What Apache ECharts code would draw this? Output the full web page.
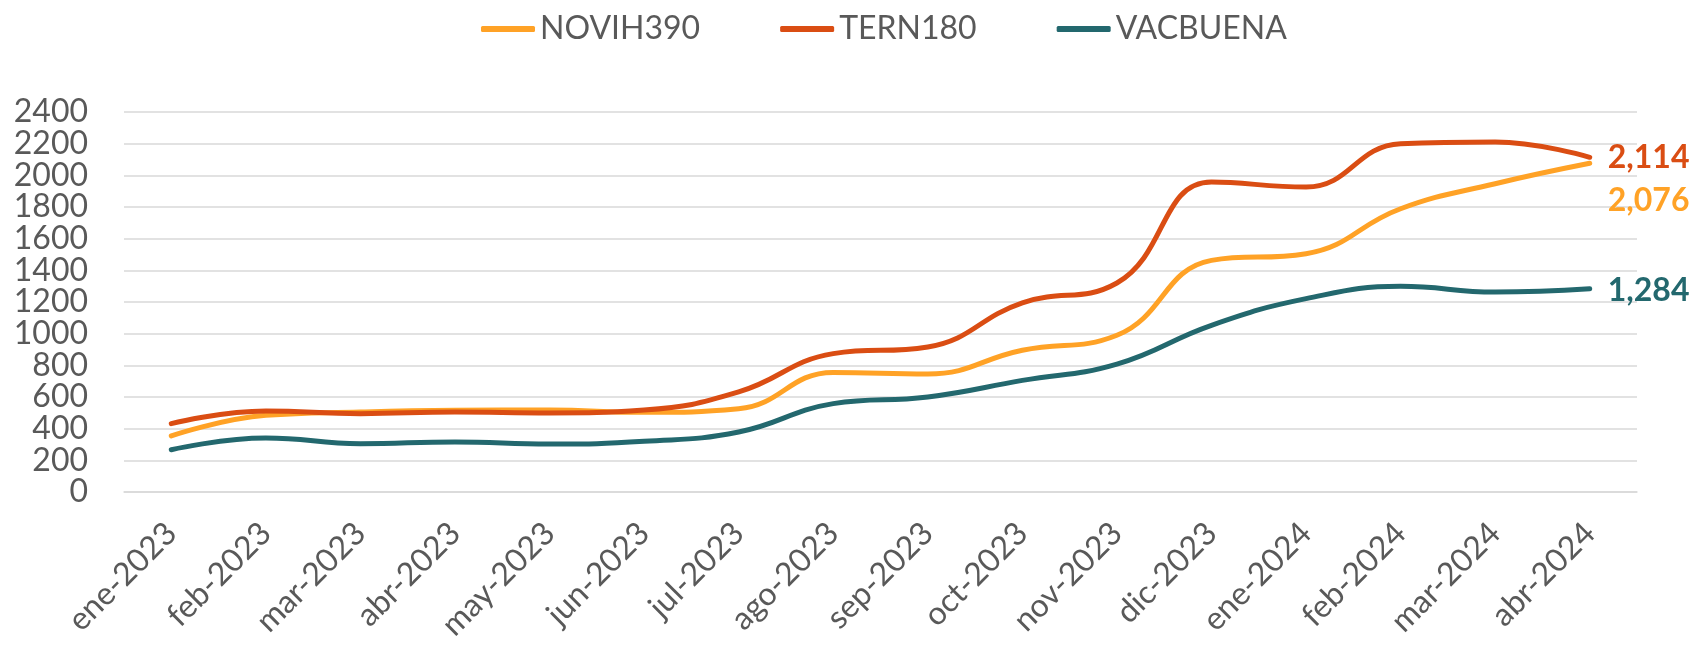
<!DOCTYPE html>
<html>
<head>
<meta charset="UTF-8">
<title>NOVIH390 / TERN180 / VACBUENA</title>
<script src="https://cdn.jsdelivr.net/npm/echarts@6/dist/echarts.min.js"></script>
<style>
  html, body { margin: 0; padding: 0; background: #fff; }
  #chart { width: 1705px; height: 645px; }
</style>
</head>
<body>
<div id="chart"></div>
<script type="text/javascript">

  // meses
  var months = ['ene-2023','feb-2023','mar-2023','abr-2023','may-2023','jun-2023','jul-2023','ago-2023',
                'sep-2023','oct-2023','nov-2023','dic-2023','ene-2024','feb-2024','mar-2024','abr-2024'];

  var novih390 = [354, 484, 505, 516, 518, 503, 526, 755, 745, 895, 990, 1463, 1505, 1789, 1947, 2076];
  var tern180  = [432, 512, 495, 505, 499, 518, 632, 874, 916, 1195, 1320, 1958, 1926, 2200, 2211, 2114];
  var vacbuena = [267, 341, 305, 316, 303, 320, 379, 558, 600, 705, 808, 1053, 1221, 1299, 1263, 1284];

  var yTicks = [0, 2400, 200]; // min, max, interval

  var font = 'Lato',
      gray = '#595959';

  function fmt(p) {
    return Number(p.value).toLocaleString('en-US');
  }

  function lineSeries(name, data, color, dy) {
    return {
      name: name,
      type: 'line',
      data: data,
      smooth: 0.45,
      showSymbol: false,
      symbol: 'none',
      lineStyle: { width: 5, color: color, cap: 'round' },
      itemStyle: { color: color },
      endLabel: {
        show: true,
        formatter: fmt,
        color: color,
        fontFamily: font,
        fontWeight: 'bold',
        fontSize: 32,
        distance: 18,
        offset: [0, dy]
      }
    };
  }

  // two stacked y axes so the end labels (0, 2400) are not dropped as overlapping
  function yAxis(showEnds, showInner) {
    return {
      type: 'value',
      position: 'left',
      min: yTicks[0],
      max: yTicks[1],
      interval: yTicks[2],
      axisLine: { show: false },
      axisTick: { show: false },
      axisLabel: {
        margin: 36,
        fontFamily: font,
        fontSize: 32,
        color: gray,
        showMinLabel: true,
        showMaxLabel: true,
        hideOverlap: false,
        formatter: function (v) {
          var isEnd = (v === yTicks[0] || v === yTicks[1]);
          return (isEnd ? showEnds : showInner) ? String(v) : '';
        }
      },
      splitLine: { show: showInner, lineStyle: { color: '#d9d9d9', width: 1.5 } }
    };
  }

  var myChart = echarts.init(document.getElementById('chart'));

  var option = {
    animation: false,
    textStyle: { fontFamily: font },
    legend: {
      left: 476,
      top: 8,
      icon: 'roundRect',
      itemWidth: 54,
      itemHeight: 6,
      itemGap: 80,
      textStyle: { fontFamily: font, fontSize: 32, color: gray },
      data: ['NOVIH390', 'TERN180', 'VACBUENA']
    },
    grid: { left: 124, right: 68, top: 112, bottom: 153 },
    xAxis: {
      type: 'category',
      data: months,
      boundaryGap: true,
      axisLine: { lineStyle: { color: '#d9d9d9', width: 1.5 } },
      axisTick: { show: false },
      axisLabel: {
        rotate: 45,
        margin: 36,
        interval: 0,
        fontFamily: font,
        fontSize: 32,
        color: gray
      }
    },
    yAxis: [yAxis(false, true), yAxis(true, false)],
    series: [
      lineSeries('NOVIH390', novih390, '#FFA226', 37),
      lineSeries('TERN180', tern180, '#DA4D13', 0),
      lineSeries('VACBUENA', vacbuena, '#23686E', 2)
    ]
  };

  myChart.setOption(option);

</script>
</body>
</html>
